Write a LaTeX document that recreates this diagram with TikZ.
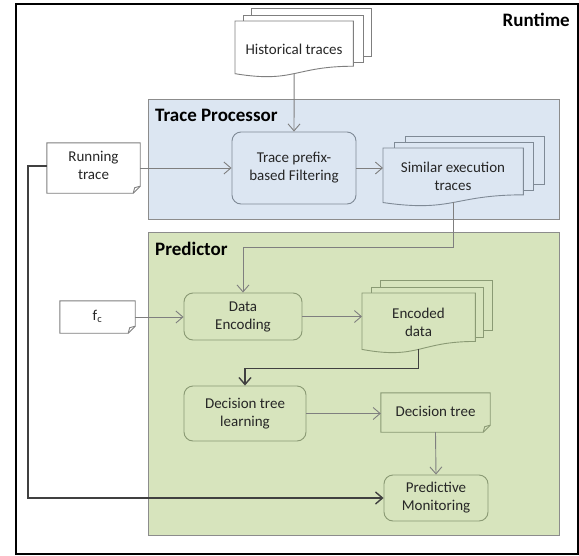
\documentclass[tikz,border=0pt]{standalone}
\usepackage{fontspec}
\setmainfont{Carlito}
\usetikzlibrary{arrows.meta,calc}
\definecolor{blueF}{HTML}{DCE6F2}
\definecolor{greenF}{HTML}{D7E4BD}
\definecolor{frameG}{HTML}{8C8C8C}
\definecolor{lineG}{HTML}{7F7F7F}
\definecolor{darkL}{HTML}{404040}
\definecolor{txtC}{HTML}{262626}
\definecolor{blueB}{HTML}{7F8A96}
\definecolor{greenB}{HTML}{8A9A74}
\definecolor{outB}{HTML}{7F7F7F}

\newcommand\docshape[2]{\draw[#2] (#1.north west) -- (#1.north east) -- ($(#1.north east)!0.802!(#1.south east)$) .. controls ($(#1.north)!0.802!(#1.south)$) and ($(#1.north)!1.107!(#1.south)$) .. ($(#1.north west)!0.934!(#1.south west)$) -- cycle;}
\newcommand\noteshape[2]{\draw[#2] (#1.north west) -- (#1.north east) -- ([yshift=7pt]#1.south east) -- ([xshift=-7pt]#1.south east) -- (#1.south west) -- cycle;
  \draw[#2,fill=none] ([xshift=-7pt]#1.south east) -- ([xshift=-5.5pt,yshift=5.5pt]#1.south east) -- ([yshift=7pt]#1.south east);}

\tikzset{
  txt/.style={font=\fontsize{15}{18}\selectfont, text=txtC, align=center},
  hdr/.style={font=\bfseries\fontsize{19}{22}\selectfont, text=black, inner sep=0pt},
  shapebox/.style={txt, draw=none, inner sep=0pt},
  rbox/.style={txt, rounded corners=9pt, line width=0.9pt, inner sep=0pt},
  conn/.style={draw=lineG, line width=0.9pt, -{Straight Barb[length=7pt,width=12pt]}},
  dconn/.style={draw=darkL, line width=1.4pt, -{Straight Barb[length=7pt,width=12pt]}},
  container/.style={draw=frameG, line width=0.9pt, inner sep=0pt, anchor=north west},
}

\begin{document}
\begin{tikzpicture}[x=1pt,y=-1pt]
\useasboundingbox (0,0) rectangle (579,555);

% outer frame
\node[draw=black, line width=2pt, minimum width=562pt, minimum height=550pt, anchor=north west, inner sep=0pt] (frame) at (14.5,2.5) {};
\node[hdr, anchor=east] (rtl) at (570,20) {Runtime};

% containers
\node[container, fill=blueF, minimum width=411pt, minimum height=120pt] (tpc) at (148,99) {};
\node[hdr, anchor=west] (tpl) at (155,115) {Trace Processor};
\node[container, fill=greenF, minimum width=411pt, minimum height=303pt] (prc) at (148,232) {};
\node[hdr, anchor=west] (prl) at (155,249) {Predictor};

% Historical traces stack
\draw[draw=outB, line width=0.9pt, fill=white] (251,8) rectangle (371,56);
\draw[draw=outB, line width=0.9pt, fill=white] (243,15) rectangle (363,62);
\node[shapebox, minimum width=118pt, minimum height=56pt, anchor=north west] (hist) at (235,21) {};
\docshape{hist}{draw=outB, line width=0.9pt, fill=white}
\node[txt] (histt) at (294,49) {Historical traces};

% Running trace
\node[shapebox, minimum width=93pt, minimum height=50pt] (rtn) at (93.5,168) {};
\noteshape{rtn}{draw=outB, line width=0.9pt, fill=white}
\node[txt] (rtnt) at (93.5,165) {Running\\trace};

% Trace prefix filtering
\node[rbox, draw=blueB, minimum width=124pt, minimum height=72pt] (tpf) at (294,168) {Trace prefix-\\based Filtering};

% Similar execution traces stack
\draw[draw=blueB, line width=0.9pt, fill=blueF] (405,136) rectangle (544,184);
\draw[draw=blueB, line width=0.9pt, fill=blueF] (394,142) rectangle (533,190);
\node[shapebox, minimum width=140pt, minimum height=58pt, anchor=north west] (sim) at (383,148) {};
\docshape{sim}{draw=blueB, line width=0.9pt, fill=blueF}
\node[txt] (simt) at (453,176) {Similar execution\\traces};

% f_c
\node[shapebox, minimum width=75pt, minimum height=32pt] (fc) at (97.5,317) {};
\noteshape{fc}{draw=outB, line width=0.9pt, fill=white}
\node[txt] (fct) at (97.5,316) {f\textsubscript{c}};

% Data Encoding
\node[rbox, draw=greenB, minimum width=118pt, minimum height=47pt] (de) at (243,316.5) {Data\\Encoding};

% Encoded data stack
\draw[draw=greenB, line width=0.9pt, fill=greenF] (380,280) rectangle (492,330);
\draw[draw=greenB, line width=0.9pt, fill=greenF] (371,287) rectangle (483,337);
\node[shapebox, minimum width=113pt, minimum height=60pt, anchor=north west] (enc) at (362,293) {};
\docshape{enc}{draw=greenB, line width=0.9pt, fill=greenF}
\node[txt] (enct) at (418.5,322) {Encoded\\data};

% Decision tree learning
\node[rbox, draw=greenB, minimum width=122pt, minimum height=55pt] (dtl) at (245,413.5) {Decision tree\\learning};

% Decision tree note
\node[shapebox, minimum width=109pt, minimum height=39pt] (dt) at (435.5,412.5) {};
\noteshape{dt}{draw=greenB, line width=0.9pt, fill=greenF}
\node[txt] (dtt) at (435.5,411) {Decision tree};

% Predictive Monitoring
\node[rbox, draw=greenB, minimum width=104pt, minimum height=46pt] (pm) at (436,498) {Predictive\\Monitoring};

% bottom points of documents
\coordinate (histbot) at ($(hist.north)!0.933!(hist.south)$);
\coordinate (simbot) at ($(sim.north)!0.933!(sim.south)$);
\coordinate (encbot) at ($(enc.north)!0.933!(enc.south)$);

% connectors
\draw[conn] (histbot) -- (tpf.north);
\draw[conn] (rtn.east) -- (tpf.west);
\draw[conn] (tpf.east) -- (sim.west |- tpf.east);
\draw[conn] (simbot) -- ++(0,45) -| (de.north);
\draw[conn] (fc.east) -- (de.west |- fc.east);
\draw[conn] (de.east) -- (enc.west |- de.east);
\draw[dconn] (encbot) -- ++(0,19) -| (dtl.north);
\draw[conn] (dtl.east) -- (dt.west |- dtl.east);
\draw[conn] (dt.south) -- (pm.north);
\draw[dconn] ([yshift=2pt]rtn.west) -- ++(-19,0) |- (pm.west);
\end{tikzpicture}
\end{document}
